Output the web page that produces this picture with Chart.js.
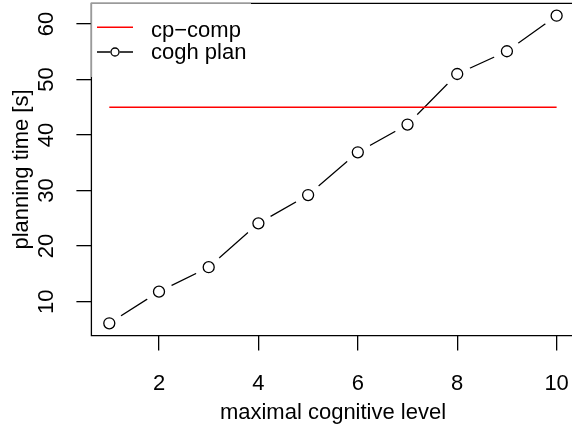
<!DOCTYPE html>
<html>
<head>
<meta charset="utf-8">
<script src="https://cdn.jsdelivr.net/npm/chart.js@4"></script>
<style>
  html, body { margin: 0; padding: 0; background: #fff; overflow: hidden; }
  canvas { display: block; }
</style>
</head>
<body>
<canvas id="planChart" width="572" height="425"></canvas>
<script>
'use strict'

// data
const levels = [1, 2, 3, 4, 5, 6, 7, 8, 9, 10];
const coghPlan = [6.1, 11.8, 16.2, 24.1, 29.2, 36.9, 41.9, 51.0, 55.1, 61.5];
const cpComp = [45, 45];
const cpCompLevels = [1, 10];
const xTicks = [2, 4, 6, 8, 10];
const yTicks = [10, 20, 30, 40, 50, 60];
const seriesNames = ['cp\u2212comp', 'cogh plan'];
const xTitle = 'maximal cognitive level';
const yTitle = 'planning time [s]';

const FONT = '22px "Liberation Sans", Arial, sans-serif';

// R style range: data range + 4% each side
function rRange(vals) {
  const lo = Math.min(...vals), hi = Math.max(...vals);
  const d = (hi - lo) * 0.04;
  return [lo - d, hi + d];
}
const [xMin, xMaxFull] = rRange(levels);
const [yMin, yMax] = rRange(coghPlan.concat(cpComp));
// the original plot region runs a few px past the right edge of the image
const xMax = xMin + (xMaxFull - xMin) * 0.9948;

const coghPoints = levels.map((l, i) => ({x: l, y: coghPlan[i]}));
const compPoints = cpCompLevels.map((l, i) => ({x: l, y: cpComp[i]}));

// box, tick labels, titles and legend, drawn in R fashion
const rPlot = {
  id: 'rPlot',
  afterDraw(chart) {
    const {ctx, chartArea: a, scales: {x, y}} = chart;
    ctx.save();
    // nothing should show at the clipped right edge
    ctx.fillStyle = '#fff';
    ctx.fillRect(a.right - 6, a.top + 2, 10, a.bottom - a.top - 4);

    ctx.strokeStyle = '#000';
    ctx.lineWidth = 1.3;
    ctx.beginPath();
    ctx.moveTo(a.right + 5, a.top);
    ctx.lineTo(a.left, a.top);
    ctx.lineTo(a.left, a.bottom);
    ctx.lineTo(a.right + 5, a.bottom);
    ctx.stroke();

    // legend area (white bg over box line)
    const lgRight = 251, lgBottom = 77;
    ctx.strokeStyle = '#9a9a9a';
    ctx.beginPath();
    ctx.moveTo(a.left, lgBottom);
    ctx.lineTo(a.left, a.top);
    ctx.lineTo(lgRight, a.top);
    ctx.stroke();

    ctx.fillStyle = '#000';
    ctx.font = FONT;
    ctx.textBaseline = 'alphabetic';

    // legend entries
    ctx.strokeStyle = '#ff0000';
    ctx.lineWidth = 1.5;
    ctx.beginPath();
    ctx.moveTo(97, 27.3);
    ctx.lineTo(133, 27.3);
    ctx.stroke();
    ctx.strokeStyle = '#000';
    ctx.lineWidth = 1.3;
    ctx.beginPath();
    ctx.moveTo(97, 52);
    ctx.lineTo(110.5, 52);
    ctx.moveTo(119.5, 52);
    ctx.lineTo(133, 52);
    ctx.stroke();
    ctx.beginPath();
    ctx.arc(115, 52, 4, 0, Math.PI * 2);
    ctx.stroke();
    ctx.textAlign = 'left';
    ctx.fillText(seriesNames[0], 151, 36.5);
    ctx.fillText(seriesNames[1], 151, 59);

    // tick labels
    ctx.textAlign = 'center';
    x.ticks.forEach(t => ctx.fillText(String(t.value), x.getPixelForValue(t.value), 390));
    y.ticks.forEach(t => {
      ctx.save();
      ctx.translate(53, y.getPixelForValue(t.value));
      ctx.rotate(-Math.PI / 2);
      ctx.fillText(String(t.value), 0, 0);
      ctx.restore();
    });

    // axis titles (centred on the full plot region)
    ctx.fillText(xTitle, 333, 419);
    ctx.save();
    ctx.translate(28, (a.top + a.bottom) / 2);
    ctx.rotate(-Math.PI / 2);
    ctx.fillText(yTitle, 0, 0);
    ctx.restore();
    ctx.restore();
  }
};

const ctx = document.getElementById('planChart');
const myChart = new Chart(ctx, {
  type: 'line',
  data: {
    datasets: [
      {
        label: seriesNames[0],
        data: compPoints,
        borderColor: '#ff0000',
        borderWidth: 1.5,
        pointRadius: 0,
        order: 1
      },
      {
        label: seriesNames[1],
        data: coghPoints,
        showLine: false,
        pointRadius: 5.5,
        pointBorderWidth: 1.3,
        pointBorderColor: '#000',
        pointBackgroundColor: '#fff',
        order: 2
      },
      {
        // white gap round each point (type "b")
        label: 'gap',
        data: coghPoints,
        showLine: false,
        pointRadius: 14,
        pointBorderWidth: 0,
        pointBorderColor: 'rgba(0,0,0,0)',
        pointBackgroundColor: '#fff',
        order: 3
      },
      {
        label: 'line',
        data: coghPoints,
        borderColor: '#000',
        borderWidth: 1.3,
        pointRadius: 0,
        tension: 0,
        order: 4
      }
    ]
  },
  options: {
    responsive: false,
    devicePixelRatio: 1,
    animation: false,
    events: [],
    layout: {
      autoPadding: false,
      padding: {top: 3.4, right: 0, left: 0, bottom: 0}
    },
    scales: {
      x: {
        type: 'linear',
        min: xMin,
        max: xMax,
        afterBuildTicks: s => { s.ticks = xTicks.map(v => ({value: v})); },
        afterFit: s => { s.height = 89.4; },
        border: {display: false},
        grid: {drawOnChartArea: false, drawTicks: true, tickLength: 15, color: '#000', lineWidth: 1.3},
        ticks: {display: false}
      },
      y: {
        type: 'linear',
        min: yMin,
        max: yMax,
        afterBuildTicks: s => { s.ticks = yTicks.map(v => ({value: v})); },
        afterFit: s => { s.width = 91.4; },
        border: {display: false},
        grid: {drawOnChartArea: false, drawTicks: true, tickLength: 15, color: '#000', lineWidth: 1.3},
        ticks: {display: false}
      }
    },
    plugins: {
      legend: {display: false},
      tooltip: {enabled: false}
    }
  },
  plugins: [rPlot]
});
</script>
</body>
</html>
